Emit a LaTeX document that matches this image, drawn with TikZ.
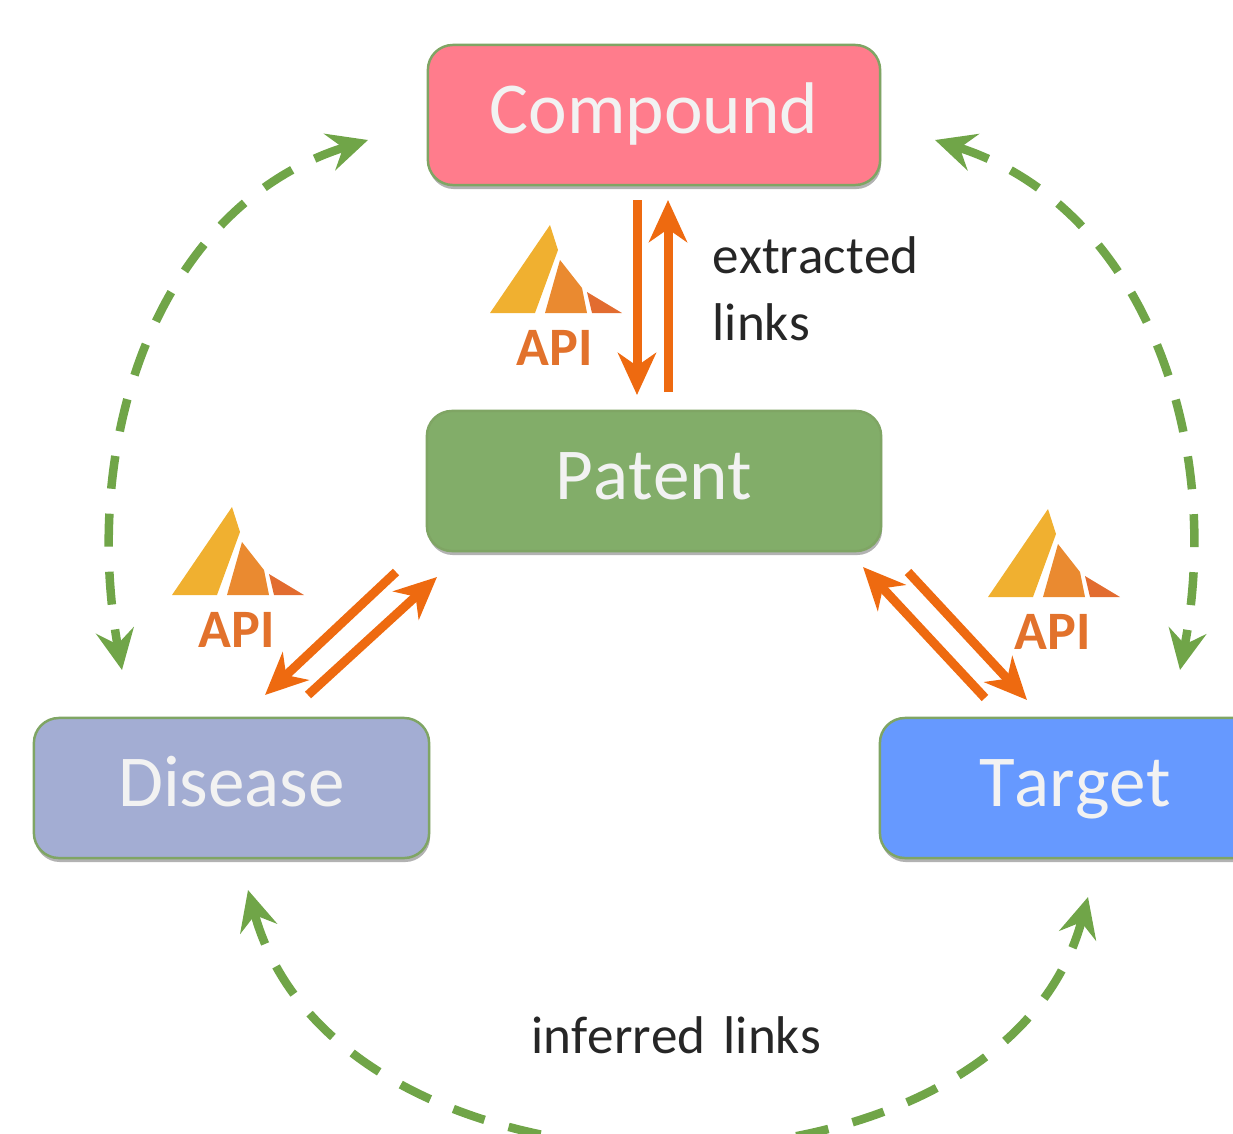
\documentclass[tikz,border=0pt]{standalone}
\usepackage{fontspec}
\usepackage{xcolor}
\setmainfont[Kerning=Off]{Carlito}
\usetikzlibrary{arrows.meta,shadows}

\definecolor{comppink}{HTML}{FF7C8C}
\definecolor{patgreen}{HTML}{82AD69}
\definecolor{disblue}{HTML}{A3ADD3}
\definecolor{tarblue}{HTML}{6699FF}
\definecolor{edgegreen}{HTML}{7FA564}
\definecolor{linkorange}{HTML}{EE6A10}
\definecolor{linkgreen}{HTML}{70A548}
\definecolor{logoyellow}{HTML}{F0B030}
\definecolor{logomid}{HTML}{EA8A30}
\definecolor{logored}{HTML}{E26C30}
\definecolor{logotext}{HTML}{E2722C}

\tikzset{
  box/.style={draw=edgegreen, line width=0.7pt, rounded corners=0.25cm, text=white!95!black,
    font=\fontsize{20.8}{24}\selectfont, inner sep=0pt, minimum height=1.4cm,
    text height=0.49cm, text depth=0.13cm,
    drop shadow={shadow xshift=0.01cm, shadow yshift=-0.04cm, opacity=0.3, fill=black}},
  extracted/.style={color=linkorange, line width=0.09cm,
    -{Stealth[length=0.42cm,width=0.38cm,inset=0.13cm]}},
  inferred/.style={color=linkgreen, line width=0.085cm, dash pattern=on 0.33cm off 0.25cm,
    {Stealth[length=0.4cm,width=0.38cm,inset=0.14cm]}-{Stealth[length=0.4cm,width=0.38cm,inset=0.14cm]}},
  linklabel/.style={anchor=base west, text=black!85, font=\fontsize{15.1}{18}\selectfont, inner sep=0pt},
  apilogo/.pic={
    \fill[color=logoyellow] (0,0)--(60,-88)--(68,-63)--(45,0)--cycle;
    \fill[color=logomid] (55,0)--(70,-53)--(92,-25)--(97,0)--cycle;
    \fill[color=logored] (97,-21)--(132,0)--(102,0)--cycle;
    \node[text=logotext, font=\bfseries\fontsize{15.4}{18}\selectfont, inner sep=0pt] (txt) at (65,35) {API};
  }
}

\begin{document}
\begin{tikzpicture}[x=0.01cm, y=-0.01cm]
\path[use as bounding box, clip] (0,0) rectangle (1233,1133);

\node[box, fill=comppink, minimum width=4.52cm] (compound) at (654,115) {Compound};
\node[box, fill=patgreen, minimum width=4.54cm] (patent) at (654,481) {Patent};
\node[box, fill=disblue, minimum width=3.95cm] (disease) at (231.5,788) {Disease};
\node[box, fill=tarblue, minimum width=3.9cm] (target) at (1075,788) {Target};

\coordinate (compdown) at (637,200);
\coordinate (patdown) at (637,395);
\coordinate (patup) at (668,392);
\coordinate (compup) at (668,200);
\draw[extracted] (compdown)--(patdown);
\draw[extracted] (patup)--(compup);

\coordinate (patleftdown) at (396,572);
\coordinate (disup) at (265,695);
\coordinate (disdown) at (308,695);
\coordinate (patleftup) at (437,577);
\draw[extracted] (patleftdown)--(disup);
\draw[extracted] (disdown)--(patleftup);

\coordinate (tarup) at (985,698);
\coordinate (patrightup) at (863,567);
\coordinate (patrightdown) at (908,572);
\coordinate (tardown) at (1027,700);
\draw[extracted] (tarup)--(patrightup);
\draw[extracted] (patrightdown)--(tardown);

\coordinate (compleft) at (368,140);
\coordinate (disleft) at (122,670);
\coordinate (compright) at (935,140);
\coordinate (tarright) at (1180,670);
\coordinate (disbottom) at (248,890);
\coordinate (tarbottom) at (1088,897);
\draw[inferred] (compleft) .. controls (160,205) and (80,435) .. (disleft);
\draw[inferred] (compright) .. controls (1140,205) and (1225,435) .. (tarright);
\draw[inferred] (disbottom) .. controls (340,1225) and (1000,1225) .. (tarbottom);

\pic (logotop) at (490,313) {apilogo};
\pic (logoleft) at (172,595) {apilogo};
\pic (logoright) at (988,597) {apilogo};

\node[linklabel] (extractedlabel) at (712,273) {extracted};
\node[linklabel] (linkslabel) at (712,340) {links};
\node[linklabel] (inferredlabel) at (531,1053) {inferred\hspace{0.06cm} links};
\end{tikzpicture}
\end{document}
